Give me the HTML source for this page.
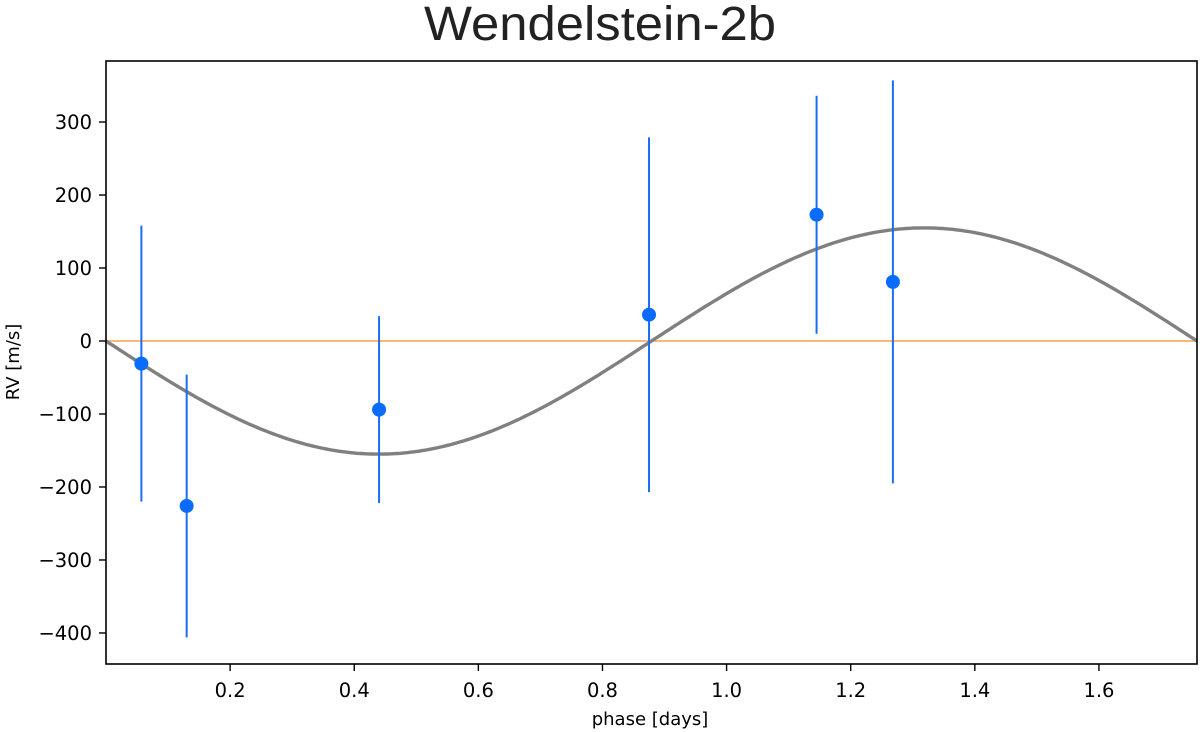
<!DOCTYPE html>
<html><head><meta charset="utf-8"><style>
body{margin:0;background:#fff}
svg{display:block;font-family:"DejaVu Sans","Liberation Sans",sans-serif}
</style></head><body>
<svg id="chart" width="1200" height="732">
<text x="600" y="40" font-size="48" text-anchor="middle" textLength="352" lengthAdjust="spacingAndGlyphs" font-family="Liberation Sans, sans-serif" fill="#222">Wendelstein-2b</text>
<g id="axes"></g>
<g id="marks"></g>
<rect x="106" y="61" width="1091" height="603" fill="none" stroke="#000" stroke-width="1.6"/>
<text x="650" y="725" font-size="18" text-anchor="middle" fill="#000">phase [days]</text>
<text transform="translate(19,362) rotate(-90)" font-size="18" text-anchor="middle" fill="#000">RV [m/s]</text>
</svg>
<script>
const phases=[0.057,0.13,0.44,0.875,1.145,1.268];
const rvs=[-31,-226,-94,36,173,81];
const errs=[189,180,128,243,163,276];
const xTicks=[0.2,0.4,0.6,0.8,1.0,1.2,1.4,1.6];
const yTicks=[300,200,100,0,-100,-200,-300,-400];
const amplitude=155;
const period=1.758;
const L=106,R=1197,T=61,B=664;
const xmin=0,xmax=1.758,ymin=-442.5,ymax=383.6;
const sx=v=>L+(v-xmin)/(xmax-xmin)*(R-L);
const sy=v=>B-(v-ymin)/(ymax-ymin)*(B-T);
const NS="http://www.w3.org/2000/svg";
const ax=document.getElementById('axes'),mk=document.getElementById('marks');
function mkEl(t,a,p){const e=document.createElementNS(NS,t);for(const k in a)e.setAttribute(k,a[k]);p.appendChild(e);return e;}
xTicks.forEach(v=>{
 const tk=mkEl('line',{x1:sx(v),x2:sx(v),y1:B,y2:B+7,stroke:'#000','stroke-width':1.4},ax);
 
 
 const t=mkEl('text',{x:sx(v),y:B+33,'font-size':19.5,'text-anchor':'middle'},ax);
 t.textContent=v.toFixed(1);
 
 
});
yTicks.forEach(v=>{
 const tk=mkEl('line',{x1:L-7,x2:L,y1:sy(v),y2:sy(v),stroke:'#000','stroke-width':1.4},ax);
 
 
 const t=mkEl('text',{x:L-14,y:sy(v)+7,'font-size':19.5,'text-anchor':'end'},ax);
 t.textContent=v<0?'\u2212'+(-v):String(v);
 
 
});
const zl=mkEl('line',{x1:L,x2:R,y1:sy(0),y2:sy(0),stroke:'#f5a04a','stroke-width':1.5},mk);


let d='';
for(let i=0;i<=300;i++){const x=xmin+(xmax-xmin)*i/300;const y=-amplitude*Math.sin(2*Math.PI*x/period);d+=(i?'L':'M')+sx(x).toFixed(1)+','+sy(y).toFixed(1);}
const fit=mkEl('path',{d:d,fill:'none',stroke:'#808080','stroke-width':3.4},mk);


phases.forEach((p,i)=>{
 const eb=mkEl('line',{x1:sx(p),x2:sx(p),y1:sy(rvs[i]+errs[i]),y2:sy(rvs[i]-errs[i]),stroke:'#1a6ff0','stroke-width':2},mk);
 
 
 const c=mkEl('circle',{cx:sx(p),cy:sy(rvs[i]),r:7,fill:'#0a6cff'},mk);
 
 
});
</script>
</body></html>
